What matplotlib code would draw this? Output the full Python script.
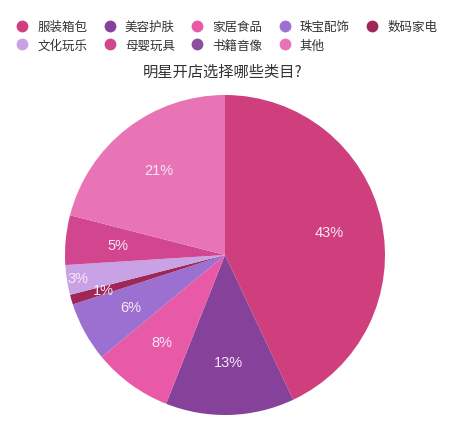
import matplotlib
matplotlib.use("Agg")
import matplotlib.pyplot as plt
from matplotlib.lines import Line2D
import numpy as np

plt.rcParams['font.family'] = ['Noto Sans CJK SC', 'DejaVu Sans']

categories = ['服装箱包', '美容护肤', '家居食品', '珠宝配饰', '数码家电',
              '文化玩乐', '母婴玩具', '书籍音像', '其他']
values = [43, 13, 8, 6, 1, 3, 5, 0, 21]
colors = ['#d03f7d', '#86419a', '#e85aa7', '#9c70d0', '#9e2758',
          '#c9a2e6', '#d24690', '#8a4f9e', '#e874b6']
title = '明星开店选择哪些类目?'

fig = plt.figure(figsize=(4.51, 4.31), dpi=100)
W, H = 451, 431
cx, cy, R = 225, 256, 160
ax = fig.add_axes([(cx - R) / W, (H - cy - R) / H, 2 * R / W, 2 * R / H])

pv = [v for v in values if v > 0]
pc = [c for v, c in zip(values, colors) if v > 0]
wedges, _ = ax.pie(pv, colors=pc, startangle=90, counterclock=False,
                   radius=1, wedgeprops=dict(linewidth=0))
ax.set_xlim(-1, 1)
ax.set_ylim(-1, 1)
ax.set_aspect('auto')
ax.axis('off')

for w, v in zip(wedges, pv):
    ang = np.deg2rad((w.theta1 + w.theta2) / 2)
    if v <= 1:
        d = 0.79
    elif v <= 3:
        d = 0.93
    else:
        d = 0.67
    ax.text(d * np.cos(ang), d * np.sin(ang), f'{v}%', ha='center', va='center',
            color='#f6e8f6', fontsize=10.5, family=['Liberation Sans', 'DejaVu Sans'])

handles = [Line2D([0], [0], marker='o', linestyle='none', markersize=8.5,
                  markerfacecolor=c, markeredgecolor='none') for c in colors]
# legend fills column-wise; reorder so it reads row-wise (5 per row)
ncol, nrow = 5, 2
order = []
for c in range(ncol):
    for r in range(nrow):
        i = r * ncol + c
        if i < len(categories):
            order.append(i)
fig.legend([handles[i] for i in order], [categories[i] for i in order],
           ncol=ncol, loc='upper left',
           bbox_to_anchor=(11 / W, 1 - 16 / H), frameon=False, fontsize=9,
           handlelength=1.0, handletextpad=0.7, columnspacing=1.3,
           labelspacing=0.45, borderaxespad=0, labelcolor='#333333')

fig.text(223 / W, 1 - 72 / H, title, ha='center', va='center', fontsize=11,
         color='#333333')

fig.savefig('out.png', dpi=100, facecolor='white')
